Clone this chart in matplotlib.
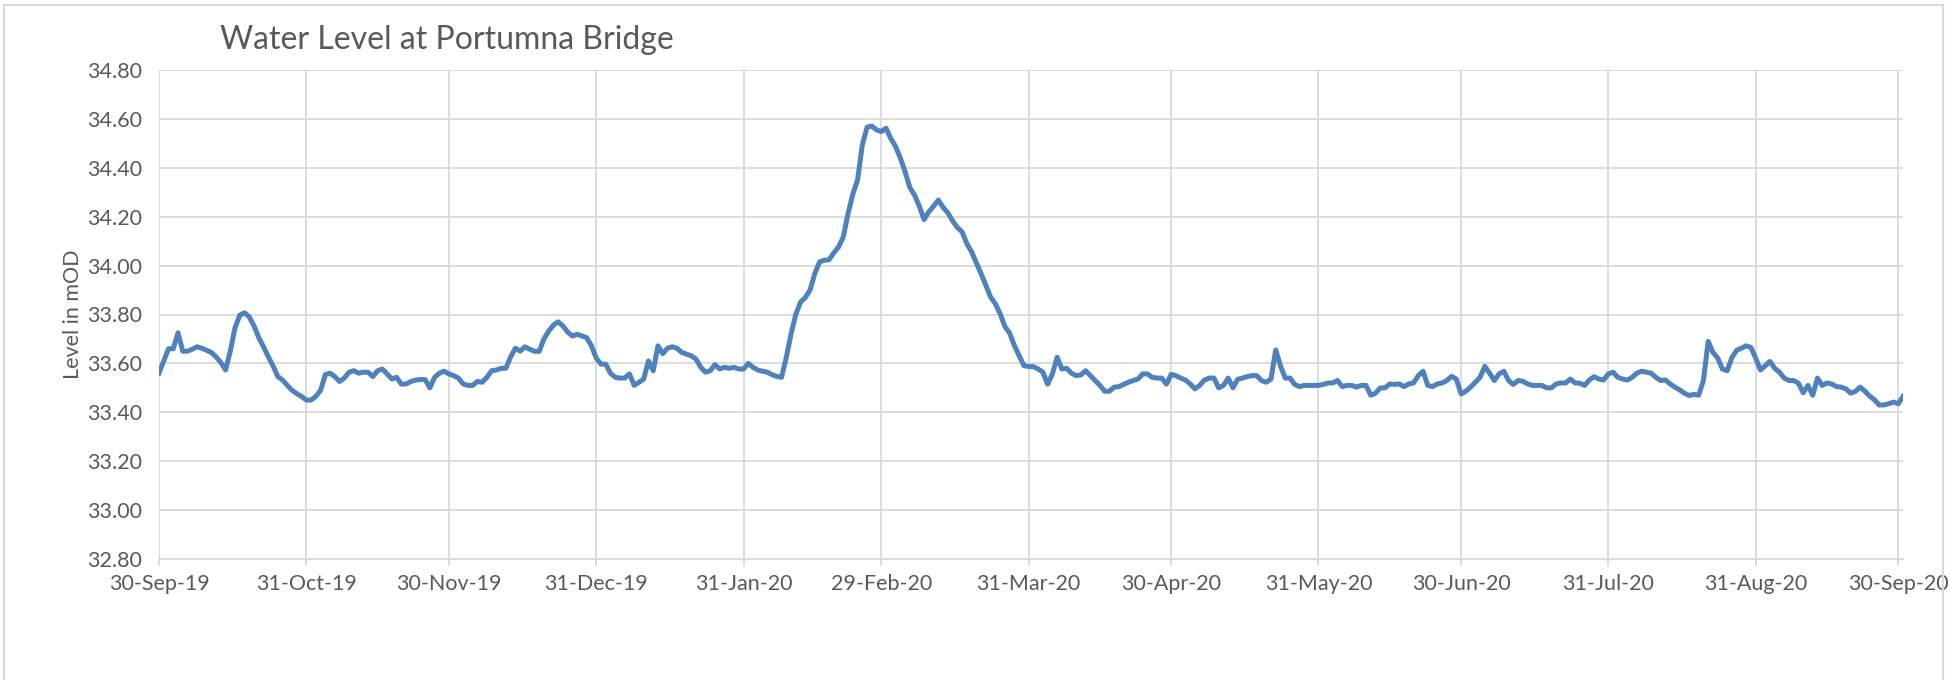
import numpy as np
import pandas as pd
import matplotlib
matplotlib.use('Agg')
import matplotlib.pyplot as plt
import matplotlib.dates as mdates
from matplotlib.patches import Rectangle

# Tageswerte Pegel Portumna Bridge, 30-Sep-19 bis 01-Oct-20 (mOD)
start = '2019-09-30'
level = [
    33.56, 33.61, 33.66, 33.66, 33.725, 33.65, 33.65, 33.658, 33.668, 33.662,
    33.654, 33.645, 33.627, 33.604, 33.573, 33.65, 33.746, 33.797, 33.807, 33.79,
    33.753, 33.705, 33.668, 33.627, 33.59, 33.546, 33.532, 33.51, 33.49, 33.476,
    33.465, 33.45, 33.45, 33.465, 33.49, 33.554, 33.56, 33.546, 33.526, 33.54,
    33.564, 33.57, 33.56, 33.564, 33.564, 33.546, 33.57, 33.577, 33.557, 33.536,
    33.543, 33.515, 33.516, 33.526, 33.532, 33.534, 33.534, 33.50, 33.543, 33.56,
    33.568, 33.557, 33.55, 33.54, 33.516, 33.51, 33.51, 33.526, 33.523, 33.543,
    33.57, 33.573, 33.58, 33.58, 33.627, 33.662, 33.65, 33.668, 33.658, 33.65,
    33.649, 33.70, 33.732, 33.757, 33.77, 33.753, 33.728, 33.712, 33.719, 33.712,
    33.705, 33.672, 33.622, 33.597, 33.597, 33.56, 33.543, 33.54, 33.54, 33.557,
    33.51, 33.523, 33.536, 33.61, 33.57, 33.672, 33.64, 33.662, 33.668, 33.662,
    33.645, 33.638, 33.631, 33.618, 33.584, 33.564, 33.57, 33.595, 33.577, 33.584,
    33.58, 33.584, 33.577, 33.577, 33.60, 33.584, 33.573, 33.568, 33.564, 33.554,
    33.547, 33.543, 33.624, 33.72, 33.80, 33.851, 33.869, 33.90, 33.967, 34.015,
    34.022, 34.024, 34.052, 34.076, 34.117, 34.213, 34.292, 34.35, 34.493, 34.566,
    34.571, 34.555, 34.548, 34.562, 34.52, 34.487, 34.44, 34.384, 34.32, 34.288,
    34.243, 34.188, 34.22, 34.243, 34.268, 34.238, 34.216, 34.183, 34.156, 34.138,
    34.09, 34.056, 34.011, 33.967, 33.919, 33.871, 33.844, 33.803, 33.751, 33.724,
    33.673, 33.632, 33.591, 33.587, 33.587, 33.577, 33.564, 33.515, 33.557, 33.625,
    33.577, 33.58, 33.56, 33.55, 33.553, 33.57, 33.55, 33.53, 33.51, 33.486,
    33.486, 33.503, 33.505, 33.514, 33.523, 33.53, 33.536, 33.557, 33.557, 33.543,
    33.54, 33.54, 33.515, 33.555, 33.55, 33.54, 33.532, 33.516, 33.496, 33.51,
    33.532, 33.54, 33.54, 33.50, 33.51, 33.54, 33.50, 33.535, 33.54, 33.546,
    33.55, 33.55, 33.53, 33.523, 33.536, 33.655, 33.59, 33.54, 33.54, 33.514,
    33.505, 33.51, 33.51, 33.51, 33.51, 33.514, 33.52, 33.52, 33.53, 33.505,
    33.51, 33.51, 33.503, 33.51, 33.51, 33.47, 33.478, 33.50, 33.50, 33.516,
    33.514, 33.516, 33.505, 33.516, 33.52, 33.55, 33.568, 33.51, 33.505, 33.516,
    33.52, 33.53, 33.547, 33.536, 33.475, 33.486, 33.503, 33.523, 33.543, 33.588,
    33.56, 33.53, 33.557, 33.568, 33.53, 33.514, 33.53, 33.527, 33.516, 33.51,
    33.51, 33.51, 33.50, 33.50, 33.516, 33.52, 33.52, 33.536, 33.52, 33.519,
    33.51, 33.532, 33.546, 33.536, 33.532, 33.557, 33.564, 33.543, 33.536, 33.532,
    33.543, 33.56, 33.568, 33.564, 33.56, 33.543, 33.53, 33.532, 33.516, 33.503,
    33.492, 33.478, 33.469, 33.473, 33.47, 33.53, 33.69, 33.645, 33.622, 33.577,
    33.57, 33.624, 33.654, 33.662, 33.672, 33.665, 33.622, 33.573, 33.59, 33.608,
    33.58, 33.564, 33.54, 33.53, 33.53, 33.519, 33.48, 33.51, 33.47, 33.54,
    33.51, 33.52, 33.516, 33.505, 33.503, 33.496, 33.478, 33.486, 33.503, 33.486,
    33.466, 33.451, 33.43, 33.43, 33.435, 33.442, 33.435, 33.465,
]

tick_dates = ['2019-09-30', '2019-10-31', '2019-11-30', '2019-12-31',
              '2020-01-31', '2020-02-29', '2020-03-31', '2020-04-30',
              '2020-05-31', '2020-06-30', '2020-07-31', '2020-08-31',
              '2020-09-30']
y_ticks = np.arange(32.8, 34.81, 0.2)

datum = pd.date_range(start, periods=len(level), freq='D')

grau = '#595959'
gitter = '#d9d9d9'
plt.rcParams['font.family'] = ['Lato', 'DejaVu Sans']

fig = plt.figure(figsize=(19.5, 6.8), dpi=100)

# Rahmen um das Diagramm
fig.add_artist(Rectangle((4/1950, -0.05), 1939/1950, 1.05 - 5/680,
                         transform=fig.transFigure, fill=False,
                         edgecolor=gitter, linewidth=1.5))

ax = fig.add_axes([159/1950, 1 - 559/680, (1903 - 159)/1950, (559 - 70)/680])
ax.plot(datum, level, color='#4f81bd', linewidth=3.6, solid_joinstyle='round',
        zorder=3)

ax.set_xlim(datum[0], datum[-1])
ax.set_ylim(32.8, 34.8)
ax.set_xticks(pd.to_datetime(tick_dates))
ax.xaxis.set_major_formatter(mdates.DateFormatter('%d-%b-%y'))
ax.set_yticks(y_ticks)
ax.set_yticklabels(['%.2f' % v for v in y_ticks])

ax.grid(True, color=gitter, linewidth=1.3)
ax.set_axisbelow(True)
for seite in ['top', 'right', 'left']:
    ax.spines[seite].set_visible(False)
ax.spines['bottom'].set_color(gitter)
ax.spines['bottom'].set_linewidth(1.3)

ax.tick_params(axis='x', colors=gitter, labelcolor=grau, labelsize=15.5,
               length=5, width=1.3, pad=6)
ax.tick_params(axis='y', length=0, labelcolor=grau, labelsize=15.5, pad=12)

ax.set_ylabel('Level in mOD', color=grau, fontsize=15.5, labelpad=3)

fig.text(447/1950, 1 - 40/680, 'Water Level at Portumna Bridge', color=grau,
         fontsize=23, ha='center', va='center')

fig.savefig('out.png', dpi=100)
